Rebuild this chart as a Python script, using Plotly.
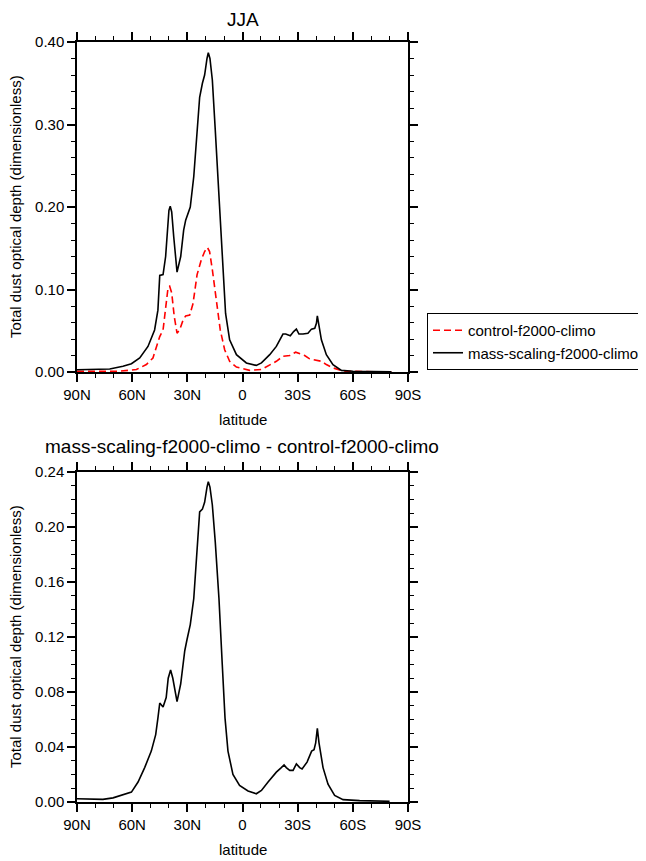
import plotly.graph_objects as go

# ---- data ----
lat_mass = [90, 72.2, 65, 60.4, 55.9, 51.4, 47.8, 46, 45, 43.2, 41.8, 40, 39.3, 38.5, 37.4, 35.6,
            33.6, 32, 30.9, 28.4, 26.5, 24.7, 23.3, 21.8, 20.6, 19.3, 18.6, 17.7, 16.4, 14.8,
            12.8, 11, 9.2, 7, 3.3, -2.1, -7.5, -10.3, -14.8, -18.4, -22, -23.5, -26, -27.8,
            -29.3, -30.7, -32.9, -35.6, -37.5, -39.3, -40.2, -40.7, -41.6, -42.9, -45.6,
            -49.2, -53.8, -60, -81]
val_mass = [0.0028, 0.0036, 0.007, 0.010, 0.017, 0.031, 0.051, 0.075, 0.117, 0.118, 0.14, 0.196,
            0.201, 0.194, 0.164, 0.121, 0.140, 0.172, 0.184, 0.200, 0.237, 0.293, 0.333, 0.350,
            0.360, 0.380, 0.387, 0.380, 0.354, 0.293, 0.212, 0.132, 0.071, 0.039, 0.021, 0.011,
            0.008, 0.011, 0.021, 0.031, 0.046, 0.046, 0.044, 0.049, 0.052, 0.046, 0.046, 0.047,
            0.052, 0.053, 0.059, 0.068, 0.055, 0.039, 0.021, 0.009, 0.002, 0.001, 0.0003]

lat_ctrl = [90, 66.8, 57.7, 52.3, 48.7, 46.5, 45, 43.2, 41.8, 40.5, 39.6, 38.5, 37.1, 35.6, 34.2,
            32.3, 30.9, 28.7, 26.9, 24.7, 22.4, 20.6, 19.1, 17.9, 16.4, 14.2, 12.1, 9.7, 7, 3.3,
            -3.9, -10.3, -14.8, -18.4, -22, -25.7, -28.9, -31.1, -33.8, -36.5, -40.2, -42.9,
            -45.6, -49.2, -54.7, -81]
val_ctrl = [0.0008, 0.001, 0.003, 0.009, 0.017, 0.033, 0.043, 0.051, 0.079, 0.102, 0.104, 0.096,
            0.067, 0.047, 0.051, 0.063, 0.068, 0.069, 0.083, 0.118, 0.136, 0.146, 0.151, 0.146,
            0.124, 0.083, 0.051, 0.027, 0.013, 0.006, 0.002, 0.003, 0.008, 0.013, 0.019, 0.020,
            0.024, 0.022, 0.020, 0.016, 0.014, 0.013, 0.009, 0.005, 0.001, 0.0]

lat_diff = [90, 75.9, 70.4, 65, 60.4, 56.8, 53.2, 49.6, 47.2, 46, 45, 43.2, 41.5, 40.4, 39.1, 37.9,
            35.6, 33.6, 31.4, 30.2, 28.4, 26.5, 24.7, 23.3, 21.8, 20.6, 19.3, 18.6, 17.7, 16.4,
            14.8, 12.8, 11, 9.5, 7.9, 5.2, 1.6, -3, -7.5, -10.3, -13.9, -18.4, -21.1, -22.6,
            -23.8, -25.7, -27.5, -29.3, -31.1, -32.4, -35.1, -37.6, -38.9, -39.8, -40.7, -41.6,
            -43.8, -46.5, -50.1, -54.7, -63.7, -80]
val_diff = [0.0024, 0.0019, 0.003, 0.0053, 0.0072, 0.0145, 0.025, 0.037, 0.049, 0.061, 0.072,
            0.069, 0.076, 0.090, 0.096, 0.090, 0.073, 0.086, 0.110, 0.118, 0.129, 0.148, 0.182,
            0.211, 0.213, 0.218, 0.229, 0.233, 0.229, 0.216, 0.189, 0.148, 0.100, 0.061, 0.037,
            0.020, 0.012, 0.008, 0.006, 0.0084, 0.0145, 0.0217, 0.025, 0.027, 0.025, 0.023,
            0.023, 0.0277, 0.025, 0.024, 0.029, 0.037, 0.038, 0.043, 0.0535, 0.043, 0.025,
            0.013, 0.0048, 0.0017, 0.001, 0.0005]

lat_ticks = [90, 60, 30, 0, -30, -60, -90]
lat_labels = ["90N", "60N", "30N", "0", "30S", "60S", "90S"]
y1_ticks = [0.0, 0.1, 0.2, 0.3, 0.4]
y1_labels = ["0.00", "0.10", "0.20", "0.30", "0.40"]
y2_ticks = [0.0, 0.04, 0.08, 0.12, 0.16, 0.20, 0.24]
y2_labels = ["0.00", "0.04", "0.08", "0.12", "0.16", "0.20", "0.24"]

name_ctrl = "control-f2000-climo"
name_mass = "mass-scaling-f2000-climo"

W, H = 646, 861
OFF = 8  # page body margin
FONT = "Liberation Sans, Arial, Helvetica, sans-serif"


def px(x):
    return (x - OFF) / W


def py(y):
    return 1 - (y - OFF) / H


fig = go.Figure()
fig.add_trace(go.Scatter(x=lat_ctrl, y=val_ctrl, mode="lines", name=name_ctrl,
                         line=dict(color="#ff0000", width=1.6, dash="7px,4px"),
                         xaxis="x", yaxis="y"))
fig.add_trace(go.Scatter(x=lat_mass, y=val_mass, mode="lines", name=name_mass,
                         line=dict(color="black", width=1.6), xaxis="x", yaxis="y"))
fig.add_trace(go.Scatter(x=lat_diff, y=val_diff, mode="lines", showlegend=False,
                         line=dict(color="black", width=1.6), xaxis="x2", yaxis="y2"))

xdom = [px(77), px(408)]
common_x = dict(range=[90, -90], tickmode="array", tickvals=lat_ticks, ticktext=lat_labels,
                ticks="outside", ticklen=8, tickwidth=1.5, tickcolor="black",
                showline=True, linewidth=1.5, linecolor="black", mirror="allticks",
                showgrid=False, zeroline=False, domain=xdom,
                tickfont=dict(family=FONT, size=15, color="black"),
                minor=dict(dtick=10, tick0=0, ticks="outside", ticklen=4, tickwidth=1,
                           tickcolor="black", showgrid=False),
                automargin=False)
common_y = dict(ticks="outside", ticklen=8, tickwidth=1.5, tickcolor="black",
                showline=True, linewidth=1.5, linecolor="black", mirror="allticks",
                showgrid=False, zeroline=False, tickmode="array",
                tickfont=dict(family=FONT, size=15, color="black"), automargin=False)

fig.update_layout(
    width=W, height=H,
    margin=dict(l=0, r=0, t=0, b=0),
    paper_bgcolor="white", plot_bgcolor="white",
    font=dict(family=FONT, color="black"),
    xaxis=dict(**common_x, anchor="y"),
    xaxis2=dict(**common_x, anchor="y2"),
    yaxis=dict(**common_y, range=[0, 0.40], tickvals=y1_ticks, ticktext=y1_labels,
               domain=[py(372), py(42)], anchor="x",
               minor=dict(dtick=0.02, tick0=0, ticks="outside", ticklen=4, tickwidth=1,
                          tickcolor="black", showgrid=False)),
    yaxis2=dict(**common_y, range=[0, 0.24], tickvals=y2_ticks, ticktext=y2_labels,
                domain=[py(802), py(472)], anchor="x2",
                minor=dict(dtick=0.01, tick0=0, ticks="outside", ticklen=4, tickwidth=1,
                           tickcolor="black", showgrid=False)),
    legend=dict(x=px(427), y=py(313), xanchor="left", yanchor="top",
                bordercolor="black", borderwidth=1, bgcolor="white",
                font=dict(family=FONT, size=15, color="black"),
                tracegroupgap=0, itemwidth=30),
    showlegend=True,
)


def ann(text, x, y, size, angle=0, yanchor="middle"):
    fig.add_annotation(text=text, x=px(x), y=py(y), xref="paper", yref="paper",
                       showarrow=False, xanchor="center", yanchor=yanchor,
                       textangle=angle, borderpad=0,
                       font=dict(family=FONT, size=size, color="black"))


ann("JJA", 243, 8, 19, yanchor="top")
ann("mass-scaling-f2000-climo - control-f2000-climo", 242, 446, 19)
ann("latitude", 243, 419, 15)
ann("latitude", 243, 849, 15)
ann("Total dust optical depth (dimensionless)", 15, 207, 15, -90)
ann("Total dust optical depth (dimensionless)", 15, 637, 15, -90)

fig.write_html("out.html")
